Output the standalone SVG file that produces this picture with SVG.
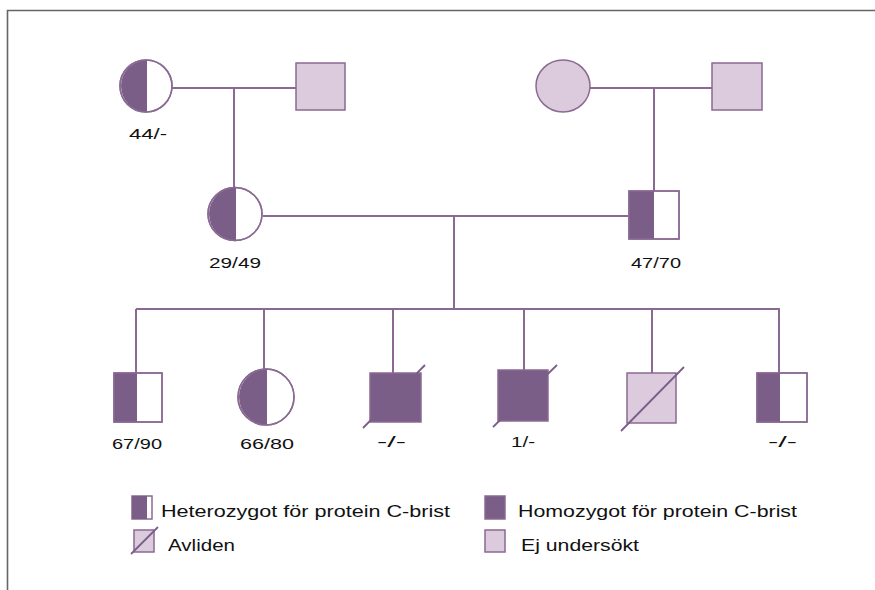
<svg xmlns="http://www.w3.org/2000/svg" width="875" height="590" viewBox="0 0 875 590">
<defs>
<style>
.ln{stroke:#8a6a92;stroke-width:2;fill:none}
.dk{fill:#7b5e88}
.lt{fill:#dccbdc}
.wh{fill:#ffffff}
.ol{stroke:#8a6a92;stroke-width:1.5}
.sl{stroke:#7b5e88;stroke-width:1.8;fill:none}
.lbl{font-family:"Liberation Sans",Arial,sans-serif;font-size:15px;fill:#111}
.leg{font-family:"Liberation Sans",Arial,sans-serif;font-size:17px;fill:#111}
</style>
</defs>
<rect width="875" height="590" fill="#ffffff"/>
<path d="M7.5 590 V10.5 H875" stroke="#666" stroke-width="1.6" fill="none"/>

<g id="connectors">
<path class="ln" d="M172 88 H296 M234 88 V188"/>
<path class="ln" d="M590 88 H712 M654 88 V191"/>
<path class="ln" d="M263 216 H629 M454 216 V309"/>
<path class="ln" d="M136 309 H780 M136 309 V373 M264 309 V369 M393 309 V373 M524 309 V370 M652 309 V373 M779 309 V373"/>
</g>

<g id="g1-mother-left">
<circle class="wh ol" cx="146" cy="86" r="26"/>
<path class="dk" d="M147 60 A26 26 0 0 0 147 112 Z"/>
<circle cx="146" cy="86" r="26" class="ol" fill="none"/>
<text class="lbl" x="129" y="139" textLength="38" lengthAdjust="spacingAndGlyphs">44/-</text>
</g>
<g id="g1-father-left">
<rect class="lt ol" x="296" y="63" width="49" height="47"/>
</g>
<g id="g1-mother-right">
<ellipse class="lt ol" cx="563" cy="86" rx="27" ry="26"/>
</g>
<g id="g1-father-right">
<rect class="lt ol" x="712" y="63" width="50" height="47"/>
</g>

<g id="g2-mother">
<ellipse class="wh ol" cx="235" cy="214" rx="27" ry="26.5"/>
<path class="dk" d="M236 187.5 A27 26.5 0 0 0 236 240.5 Z"/>
<ellipse cx="235" cy="214" rx="27" ry="26.5" class="ol" fill="none"/>
<text class="lbl" x="209" y="268" textLength="52" lengthAdjust="spacingAndGlyphs">29/49</text>
</g>
<g id="g2-father">
<rect class="wh ol" x="629" y="191" width="50" height="48"/>
<rect class="dk" x="629" y="191" width="25" height="48"/>
<rect x="629" y="191" width="50" height="48" class="ol" fill="none"/>
<text class="lbl" x="631" y="268" textLength="50" lengthAdjust="spacingAndGlyphs">47/70</text>
</g>

<g id="child1">
<rect class="wh ol" x="114" y="373" width="48" height="49"/>
<rect class="dk" x="114" y="373" width="23" height="49"/>
<rect x="114" y="373" width="48" height="49" class="ol" fill="none"/>
<text class="lbl" x="112" y="449" textLength="50" lengthAdjust="spacingAndGlyphs">67/90</text>
</g>
<g id="child2">
<ellipse class="wh ol" cx="266" cy="397" rx="28" ry="28"/>
<path class="dk" d="M267 369 A28 28 0 0 0 267 425 Z"/>
<ellipse cx="266" cy="397" rx="28" ry="28" class="ol" fill="none"/>
<text class="lbl" x="240" y="449" textLength="54" lengthAdjust="spacingAndGlyphs">66/80</text>
</g>
<g id="child3">
<rect class="dk ol" x="370" y="373" width="51" height="49"/>
<path class="sl" d="M363 428 L425 365"/>
<text class="lbl" x="377" y="447" textLength="29" lengthAdjust="spacingAndGlyphs">-/-</text>
</g>
<g id="child4">
<rect class="dk ol" x="498" y="370" width="50" height="51"/>
<path class="sl" d="M493 427 L557 365"/>
<text class="lbl" x="511" y="447" textLength="24" lengthAdjust="spacingAndGlyphs">1/-</text>
</g>
<g id="child5">
<rect class="lt ol" x="627" y="373" width="49" height="50"/>
<path class="sl" d="M621 431 L684 367"/>
</g>
<g id="child6">
<rect class="wh ol" x="757" y="373" width="50" height="49"/>
<rect class="dk" x="757" y="373" width="23" height="49"/>
<rect x="757" y="373" width="50" height="49" class="ol" fill="none"/>
<text class="lbl" x="768" y="447" textLength="29" lengthAdjust="spacingAndGlyphs">-/-</text>
</g>

<g id="legend-hetero">
<rect class="wh ol" x="132" y="496" width="20" height="23"/>
<rect class="dk" x="132" y="496" width="15" height="23"/>
<text class="leg" x="161" y="517" textLength="289" lengthAdjust="spacingAndGlyphs">Heterozygot för protein C-brist</text>
</g>
<g id="legend-homo">
<rect class="dk ol" x="485" y="496" width="20" height="23"/>
<text class="leg" x="518" y="517" textLength="279" lengthAdjust="spacingAndGlyphs">Homozygot för protein C-brist</text>
</g>
<g id="legend-deceased">
<rect class="lt ol" x="134" y="530" width="20" height="22"/>
<path class="sl" d="M131 554 L158 527"/>
<text class="leg" x="168" y="551" textLength="67" lengthAdjust="spacingAndGlyphs">Avliden</text>
</g>
<g id="legend-unexamined">
<rect class="lt ol" x="485" y="530" width="20" height="22"/>
<text class="leg" x="521" y="551" textLength="118" lengthAdjust="spacingAndGlyphs">Ej undersökt</text>
</g>
</svg>
